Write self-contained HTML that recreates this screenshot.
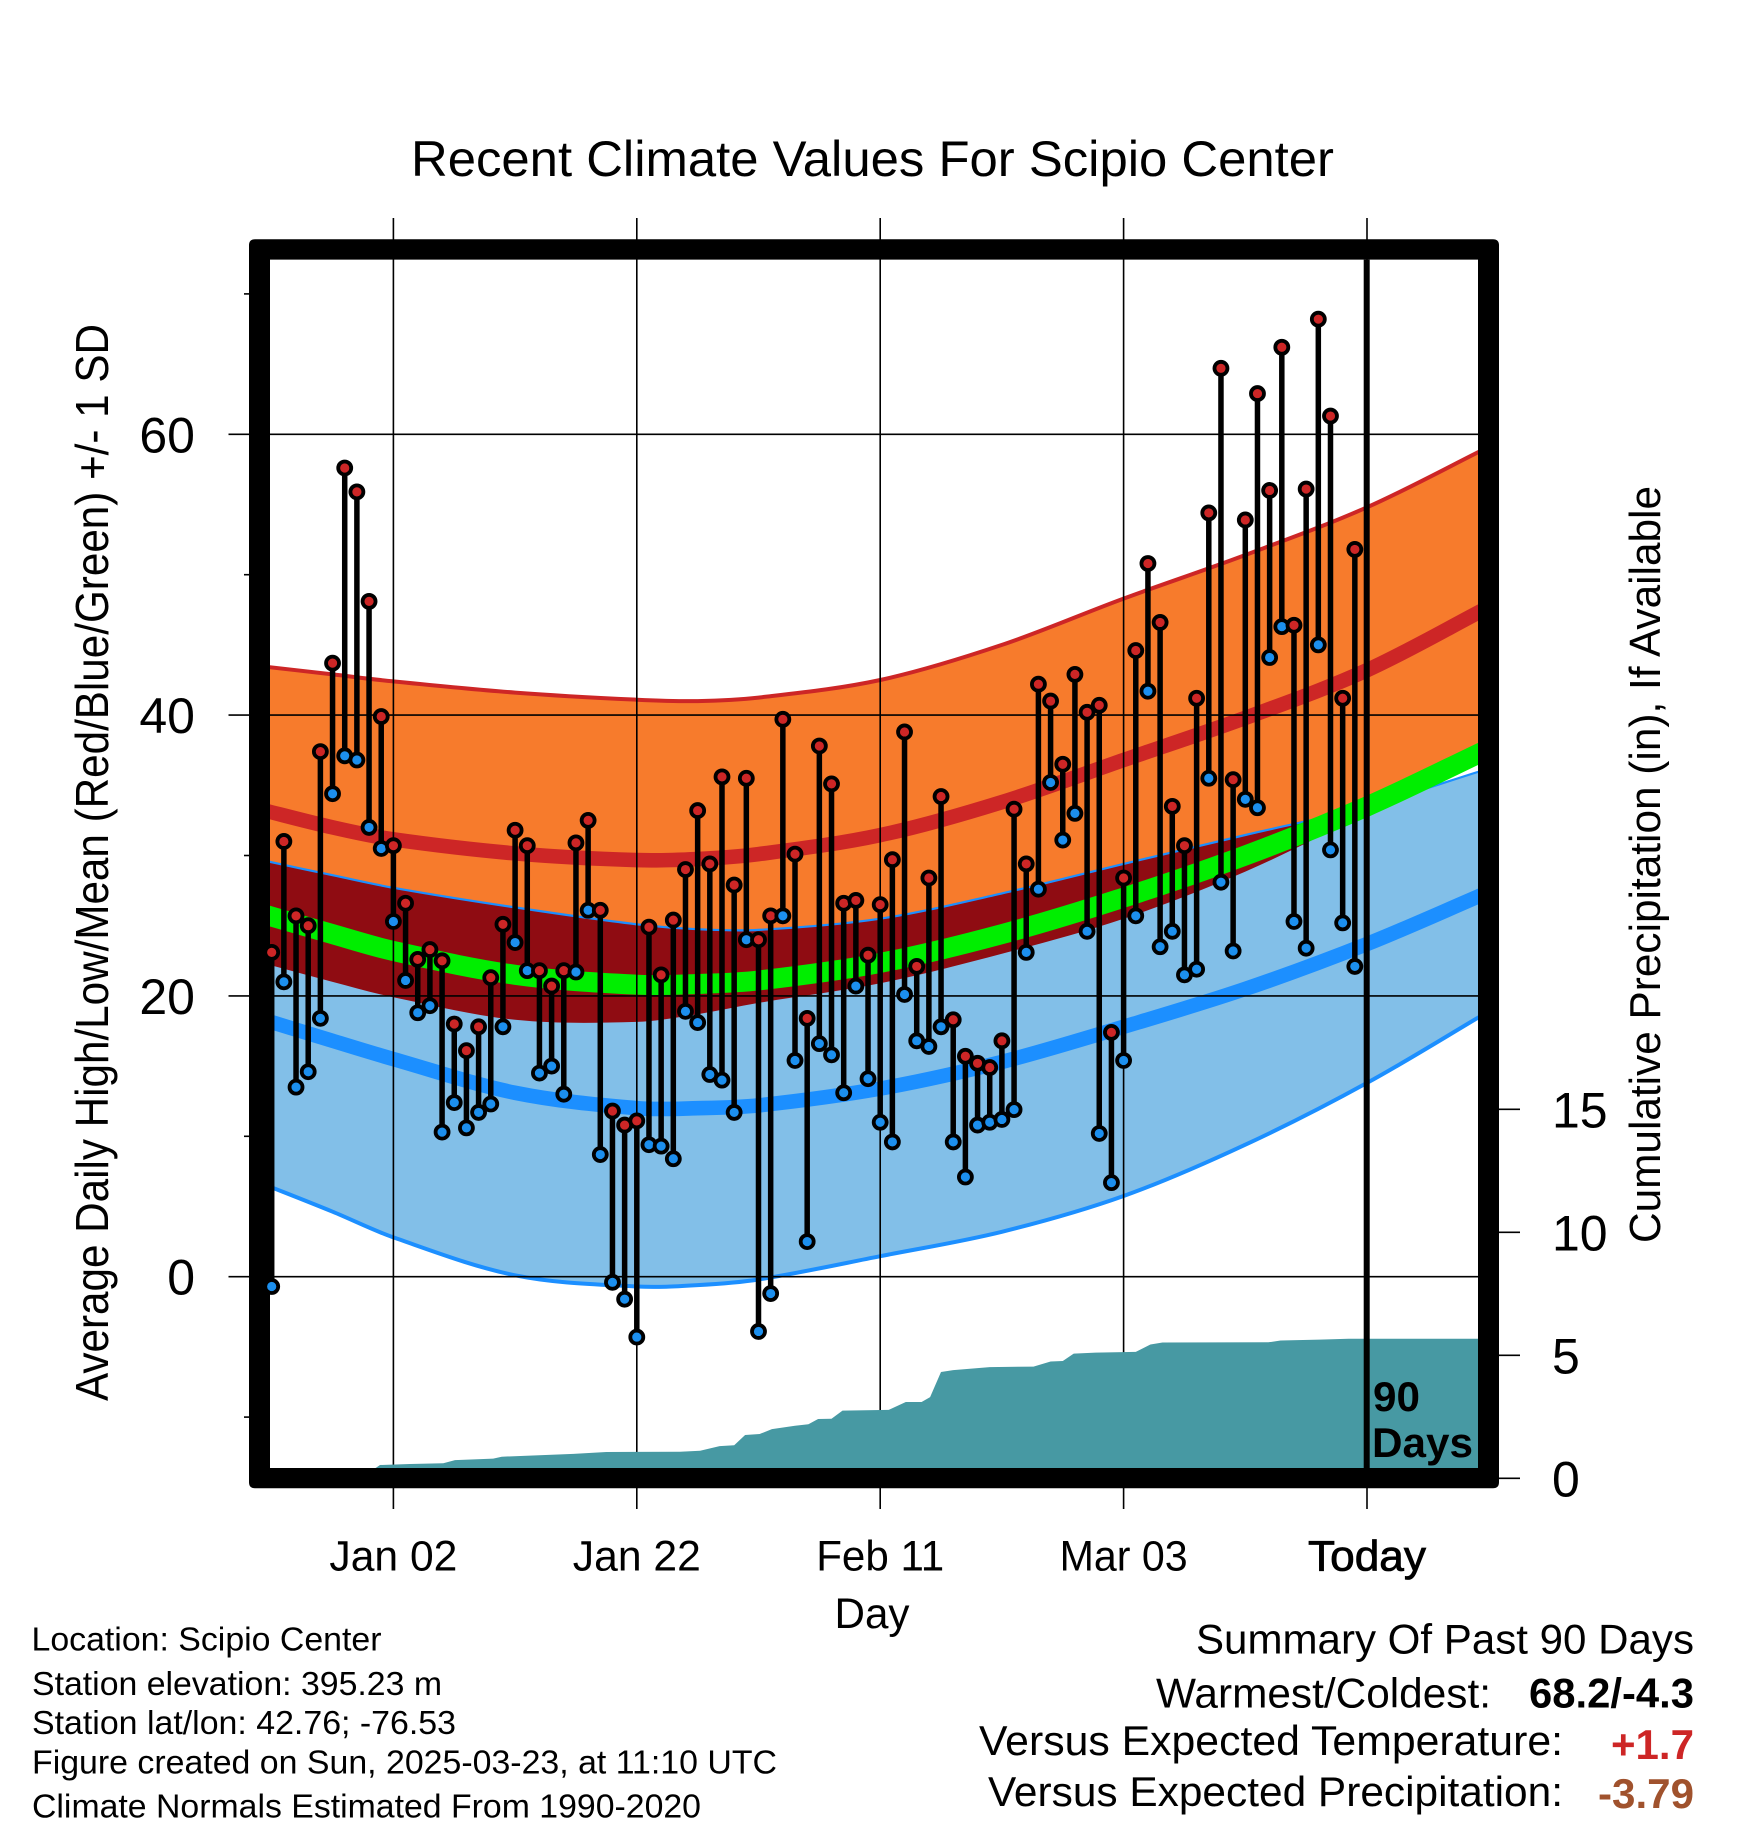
<!DOCTYPE html>
<html lang="en">
<head>
<meta charset="utf-8">
<title>Recent Climate Values For Scipio Center</title>
<style>
html,body{margin:0;padding:0;background:#fff;}
svg{display:block;font-family:"Liberation Sans",Arial,Helvetica,sans-serif;}
</style>
</head>
<body>
<svg id="chart" xmlns="http://www.w3.org/2000/svg" width="1748" height="1828" viewBox="0 0 1748 1828">
  <rect x="0" y="0" width="1748" height="1828" fill="#fff"/>
  <defs>
    <clipPath id="plot-clip"><rect x="270" y="259.6" width="1208" height="1208.4"/></clipPath>
    <clipPath id="low-band-clip"><path id="low-band-clip-path" d=""/></clipPath>
  </defs>
  <g id="bands" clip-path="url(#plot-clip)"></g>
  <g id="grid"></g>
  <g id="precip" clip-path="url(#plot-clip)"></g>
  <path fill="#000" fill-rule="evenodd" d="M255 239.3H1493Q1499 239.3 1499 245.3V1482.3Q1499 1488.3 1493 1488.3H255Q249 1488.3 249 1482.3V245.3Q249 239.3 255 239.3ZM270 259.6V1468H1478V259.6Z"/>
  <g id="axis-labels" font-size="50" fill="#000"></g>
  <line x1="1366.7" y1="259.6" x2="1366.7" y2="1468" stroke="#000" stroke-width="6"/>
  <text x="1373" y="1411" font-size="42" font-weight="bold" textLength="47" lengthAdjust="spacingAndGlyphs">90</text>
  <text x="1372" y="1457" font-size="42" font-weight="bold" textLength="101" lengthAdjust="spacingAndGlyphs">Days</text>
  <g id="points"></g>

  <text x="411" y="176" font-size="50" textLength="923" lengthAdjust="spacingAndGlyphs">Recent Climate Values For Scipio Center</text>
  <text transform="translate(108,1401) rotate(-90)" font-size="46.5" textLength="1077" lengthAdjust="spacingAndGlyphs">Average Daily High/Low/Mean (Red/Blue/Green) +/- 1 SD</text>
  <text transform="translate(1660,1243) rotate(-90)" font-size="44" textLength="757" lengthAdjust="spacingAndGlyphs">Cumulative Precipitation (in), If Available</text>
  <text x="872" y="1628" font-size="43" text-anchor="middle" textLength="75" lengthAdjust="spacingAndGlyphs">Day</text>

  <g font-size="33" fill="#000">
    <text x="31.5" y="1650.7" textLength="350" lengthAdjust="spacingAndGlyphs">Location: Scipio Center</text>
    <text x="32" y="1695" textLength="410" lengthAdjust="spacingAndGlyphs">Station elevation: 395.23 m</text>
    <text x="32" y="1734" textLength="424" lengthAdjust="spacingAndGlyphs">Station lat/lon: 42.76; -76.53</text>
    <text x="32" y="1773.3" textLength="745" lengthAdjust="spacingAndGlyphs">Figure created on Sun, 2025-03-23, at 11:10 UTC</text>
    <text x="32" y="1817.7" textLength="669" lengthAdjust="spacingAndGlyphs">Climate Normals Estimated From 1990-2020</text>
  </g>

  <g font-size="42" fill="#000">
    <text x="1196" y="1653.3" textLength="498" lengthAdjust="spacingAndGlyphs">Summary Of Past 90 Days</text>
    <text x="1156" y="1707.7" textLength="335" lengthAdjust="spacingAndGlyphs">Warmest/Coldest:</text>
    <text x="1529" y="1707.7" font-weight="bold" textLength="165" lengthAdjust="spacingAndGlyphs">68.2/-4.3</text>
    <text x="979" y="1755" textLength="584" lengthAdjust="spacingAndGlyphs">Versus Expected Temperature:</text>
    <text x="1611" y="1759" font-weight="bold" fill="#CD2626" textLength="83" lengthAdjust="spacingAndGlyphs">+1.7</text>
    <text x="988" y="1806" textLength="575" lengthAdjust="spacingAndGlyphs">Versus Expected Precipitation:</text>
    <text x="1598" y="1808" font-weight="bold" fill="#A0522D" textLength="96" lengthAdjust="spacingAndGlyphs">-3.79</text>
  </g>
</svg>
<script>
// Observed daily values, one entry per day, oldest first (deg F)
const dailyHigh = [23.1,31.0,25.7,25.0,37.4,43.7,57.6,55.9,48.1,39.9,30.7,26.6,22.6,23.3,22.5,18.0,16.1,17.8,21.3,25.1,31.8,30.7,21.8,20.7,21.8,30.9,32.5,26.1,11.8,10.8,11.1,24.9,21.5,25.4,29.0,33.2,29.4,35.6,27.9,35.5,24.0,25.7,39.7,30.1,18.4,37.8,35.1,26.6,26.8,22.9,26.5,29.7,38.8,22.1,28.4,34.2,18.3,15.7,15.2,14.9,16.8,33.3,29.4,42.2,41.0,36.5,42.9,40.2,40.7,17.4,28.4,44.6,50.8,46.6,33.5,30.7,41.2,54.4,64.7,35.4,53.9,62.9,56.0,66.2,46.4,56.1,68.2,61.3,41.2,51.8];
const dailyLow = [-0.7,21.0,13.5,14.6,18.4,34.4,37.1,36.8,32.0,30.5,25.3,21.1,18.8,19.3,10.3,12.4,10.6,11.7,12.3,17.8,23.8,21.8,14.5,15.0,13.0,21.7,26.1,8.7,-0.4,-1.6,-4.3,9.4,9.3,8.4,18.9,18.1,14.4,14.0,11.7,24.0,-3.9,-1.2,25.7,15.4,2.5,16.6,15.8,13.1,20.7,14.1,11.0,9.6,20.1,16.8,16.4,17.8,9.6,7.1,10.8,11.0,11.2,11.9,23.1,27.6,35.2,31.1,33.0,24.6,10.2,6.7,15.4,25.7,41.7,23.5,24.6,21.5,21.9,35.5,28.1,23.2,34.0,33.4,44.1,46.3,25.3,23.4,45.0,30.4,25.2,22.1];

// Climate normals read at these day numbers
const normalDays = [-1,5,10,20,30,35,40,50,60,70,80,90,100];
const highPlusSd = [43.5,42.9,42.4,41.6,41.1,41.0,41.25,42.5,45.0,48.3,51.4,54.8,59.1];
const highNormal = [33.3,32.0,31.15,30.15,29.67,29.75,30.1,31.45,33.8,36.8,39.8,43.2,47.7];
const highMinusSd = [22.4,21.0,19.9,18.3,18.15,18.7,19.5,20.9,23.0,25.5,28.85,33.0,37.0];
const meanNormal = [25.9,24.4,23.2,21.5,20.8,20.85,21.1,22.35,24.4,27.0,30.0,33.5,37.6];
const lowPlusSd = [29.7,28.6,27.7,26.3,25.1,24.75,24.7,25.5,27.3,29.4,31.46,33.5,36.2];
const lowNormal = [18.4,16.8,15.5,13.1,12.0,12.0,12.2,13.4,15.3,17.8,20.5,23.7,27.4];
const lowMinusSd = [6.7,4.63,2.8,0.1,-0.7,-0.6,-0.2,1.46,3.2,5.75,9.4,13.8,18.9];

// Cumulative precipitation (in)
const precipDays = [0,8,8.57,8.9,11.36,14.1,15.06,18.2,18.9,24.8,27.5,33.55,35.2,36.8,38,38.9,40.1,41.1,43,44.1,44.9,46,46.9,50.7,52.1,53.4,54.1,55,56,59,62.6,64,65,65.9,67.7,71,72.2,73.2,81.9,82.9,86.1,88.5,100];
const precipTotal = [0.1,0.3,0.43,0.54,0.58,0.61,0.74,0.8,0.88,0.99,1.07,1.08,1.12,1.31,1.34,1.76,1.8,2.0,2.14,2.2,2.41,2.42,2.75,2.78,3.1,3.1,3.3,4.32,4.4,4.52,4.54,4.75,4.77,5.07,5.11,5.14,5.44,5.52,5.53,5.6,5.64,5.67,5.67];

// Axis ticks
const tempMajorTicks = [60,40,20,0];
const tempMinorTicks = [70,50,30,10,-10];
const precipTicks = [0,5,10,15];
const dateTickDays = [10,30,50,70,90];
const dateTickLabels = ["Jan 02","Jan 22","Feb 11","Mar 03","Today"];

// Axis functions
function xDay(d){ return 271.7 + 12.17 * d; }
function yTemp(v){ return 1276.7 - 14.04 * v; }
function yPrecip(v){ return 1478.3 - 24.6 * v; }

const NS = 'http://www.w3.org/2000/svg';
function mk(tag, attrs, parent){
  const el = document.createElementNS(NS, tag);
  for (const k in attrs) el.setAttribute(k, attrs[k]);
  parent.appendChild(el);
  return el;
}
function curve(days, vals, start){
  const px = days.map(xDay), py = vals.map(yTemp);
  const n = px.length;
  const m = px.map(function(_, i){
    const a = Math.max(i - 1, 0), b = Math.min(i + 1, n - 1);
    return (py[b] - py[a]) / (px[b] - px[a]);
  });
  let d = (start ? 'M' : 'L') + px[0].toFixed(1) + ' ' + py[0].toFixed(1);
  for (let i = 0; i < n - 1; i++){
    const h = (px[i+1] - px[i]) / 3;
    d += 'C' + (px[i] + h).toFixed(1) + ' ' + (py[i] + m[i] * h).toFixed(1) + ' ' + (px[i+1] - h).toFixed(1) + ' ' + (py[i+1] - m[i+1] * h).toFixed(1) + ' ' + px[i+1].toFixed(1) + ' ' + py[i+1].toFixed(1);
  }
  return d;
}
function band(top, bottom){
  return curve(normalDays, top, true) + curve(normalDays.slice().reverse(), bottom.slice().reverse(), false) + 'Z';
}

// Bands
const bandsG = document.getElementById('bands');
const highBandPath = band(highPlusSd, highMinusSd);
const lowBandPath = band(lowPlusSd, lowMinusSd);
document.getElementById('low-band-clip-path').setAttribute('d', lowBandPath);

const highBand = mk('path', {d: highBandPath, fill: '#F77B2C'}, bandsG);



const lowBand = mk('path', {d: lowBandPath, fill: '#82BFE8'}, bandsG);



const overlapBand = mk('path', {d: highBandPath, fill: '#8F0C12', 'clip-path': 'url(#low-band-clip)'}, bandsG);



const highTop = mk('path', {d: curve(normalDays, highPlusSd, true), fill: 'none', stroke: '#CD2626', 'stroke-width': 4}, bandsG);



const lowTop = mk('path', {d: curve(normalDays, lowPlusSd, true), fill: 'none', stroke: '#1C8FFF', 'stroke-width': 2.2}, bandsG);



const lowBottom = mk('path', {d: curve(normalDays, lowMinusSd, true), fill: 'none', stroke: '#1C8FFF', 'stroke-width': 4}, bandsG);



const highLine = mk('path', {d: curve(normalDays, highNormal, true), fill: 'none', stroke: '#CD2626', 'stroke-width': 14.6}, bandsG);



const lowLine = mk('path', {d: curve(normalDays, lowNormal, true), fill: 'none', stroke: '#1C8FFF', 'stroke-width': 14.6}, bandsG);



const meanLine = mk('path', {d: curve(normalDays, meanNormal, true), fill: 'none', stroke: '#00EE00', 'stroke-width': 20}, bandsG);



// Grid and ticks
const gridG = document.getElementById('grid');
const labelsG = document.getElementById('axis-labels');
tempMajorTicks.forEach(function(v){
  const ln = mk('line', {x1: 228.5, x2: 1478, y1: yTemp(v), y2: yTemp(v), stroke: '#000', 'stroke-width': 1.6}, gridG);
  
  
  const t = mk('text', {x: 195, y: yTemp(v) + 18, 'text-anchor': 'end'}, labelsG);
  t.textContent = String(v);
  
  
});
tempMinorTicks.forEach(function(v){
  const ln = mk('line', {x1: 244, x2: 249, y1: yTemp(v), y2: yTemp(v), stroke: '#000', 'stroke-width': 1.6}, gridG);
  
  
});
precipTicks.forEach(function(v){
  const ln = mk('line', {x1: 1499, x2: 1520, y1: yPrecip(v), y2: yPrecip(v), stroke: '#000', 'stroke-width': 1.6}, gridG);
  
  
  const t = mk('text', {x: 1552, y: yPrecip(v) + 18}, labelsG);
  t.textContent = String(v);
  
  
});
dateTickDays.forEach(function(d, i){
  const ln = mk('line', {x1: xDay(d), x2: xDay(d), y1: 218, y2: 1509, stroke: '#000', 'stroke-width': 1.6}, gridG);
  
  
  const attrs = {x: xDay(d), y: 1570.7, 'text-anchor': 'middle', 'font-size': 43, textLength: 128, lengthAdjust: 'spacingAndGlyphs'};
  if (dateTickLabels[i] === 'Today'){ attrs.stroke = '#000'; attrs['stroke-width'] = 0.8; attrs.textLength = 118; }
  const t = mk('text', attrs, labelsG);
  t.textContent = dateTickLabels[i];
  
  
});

// Precipitation area
const precipG = document.getElementById('precip');
let precipD = 'M' + xDay(precipDays[0]).toFixed(1) + ' ' + yPrecip(0).toFixed(1);
precipDays.forEach(function(d, i){
  precipD += 'L' + xDay(d).toFixed(1) + ' ' + yPrecip(precipTotal[i]).toFixed(1);
});
precipD += 'L' + xDay(precipDays[precipDays.length - 1]).toFixed(1) + ' ' + yPrecip(0).toFixed(1) + 'Z';
const precipArea = mk('path', {d: precipD, fill: '#4799A3'}, precipG);



// Daily high/low stems and points
const pointsG = document.getElementById('points');
dailyHigh.forEach(function(hi, i){
  const lo = dailyLow[i], cx = xDay(i);
  const stem = mk('line', {x1: cx, x2: cx, y1: yTemp(hi), y2: yTemp(lo), stroke: '#000', 'stroke-width': 5.5}, pointsG);
  
  
  const loDot = mk('circle', {cx: cx, cy: yTemp(lo), r: 6.5, fill: '#1C8FEE', stroke: '#000', 'stroke-width': 3.8}, pointsG);
  
  
  const hiDot = mk('circle', {cx: cx, cy: yTemp(hi), r: 6.5, fill: '#CD2626', stroke: '#000', 'stroke-width': 3.8}, pointsG);
  
  
});
</script>
</body>
</html>
